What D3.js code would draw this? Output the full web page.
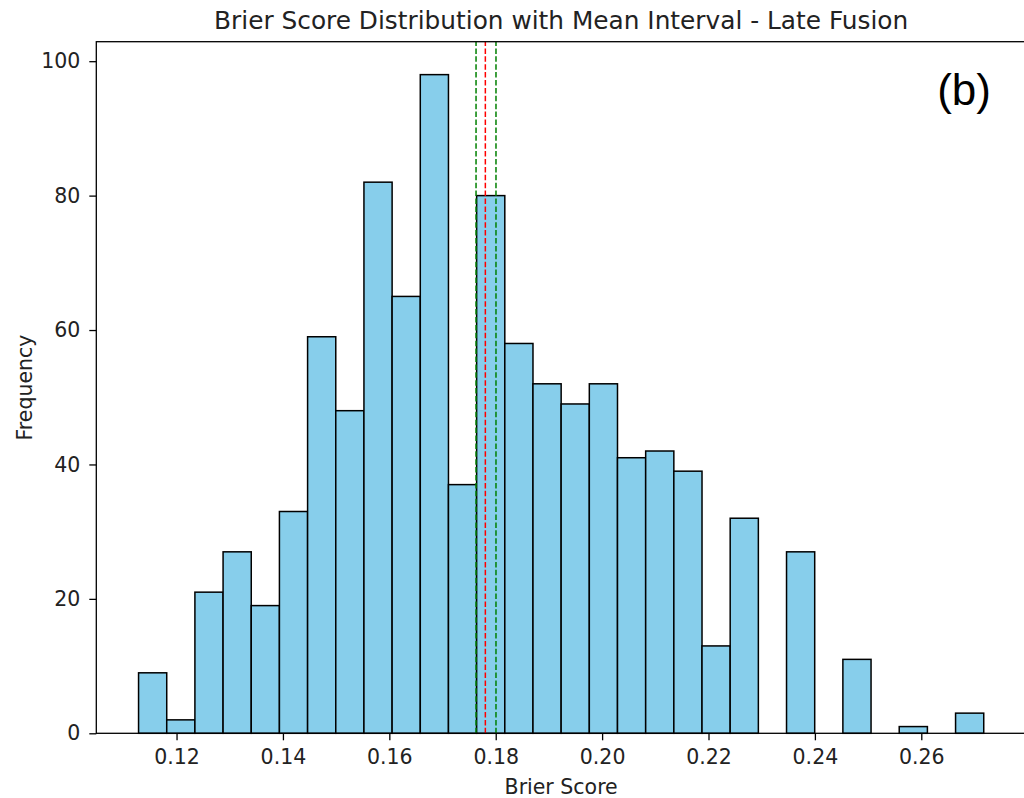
<!DOCTYPE html>
<html><head><meta charset="utf-8">
<script src="https://cdn.jsdelivr.net/npm/d3@7"></script>
<style>body{margin:0;background:#fff;} svg{display:block;}</style>
</head><body>
<svg id="chart" width="1024" height="798"></svg>
<script>
const counts = [9,2,21,27,19,33,59,48,82,65,98,37,80,58,52,49,52,41,42,39,13,32,0,27,0,11,0,1,0,3];
const binMin = 0.11286;
const binMax = 0.27174;
const meanValue = 0.17805;
const ciLower = 0.17630;
const ciUpper = 0.18005;
const xTicks = [0.12,0.14,0.16,0.18,0.20,0.22,0.24,0.26];
const yTicks = [0,20,40,60,80,100];

const svg = d3.select("#chart");
const L = 96.3, R = 1026, T = 41.7, B = 733.3;
const font = "DejaVu Sans, sans-serif";
const span = binMax - binMin;
const x = d3.scaleLinear().domain([binMin - 0.05*span, binMax + 0.05*span]).range([L, R]);
const y = d3.scaleLinear().domain([0, d3.max(counts)*1.05]).range([B, T]);
const bw = span / counts.length;
const bins = counts.map((c,i)=>({x0: binMin + i*bw, x1: binMin + (i+1)*bw, c}));

svg.append("g").selectAll("rect").data(bins).join("rect")
  .attr("x", d=>x(d.x0)).attr("width", d=>x(d.x1)-x(d.x0))
  .attr("y", d=>y(d.c)).attr("height", d=>y(0)-y(d.c))
  .attr("fill", "#87ceeb").attr("stroke", "#000").attr("stroke-width", 1.5);

const lines = [{v: meanValue, c: "#ff0000"},{v: ciLower, c:"#008000"},{v: ciUpper, c:"#008000"}];
svg.append("g").selectAll("line").data(lines).join("line")
  .attr("x1", d=>x(d.v)).attr("x2", d=>x(d.v)).attr("y1", B).attr("y2", T)
  .attr("stroke", d=>d.c).attr("stroke-width", 1.5).attr("stroke-dasharray", "5.5,2.4");

// axes
const xAxis = svg.append("g").attr("transform", `translate(0,${B})`)
  .call(d3.axisBottom(x).tickValues(xTicks).tickFormat(d3.format(".2f")).tickSize(7).tickPadding(9));
const yAxis = svg.append("g").attr("transform", `translate(${L},0)`)
  .call(d3.axisLeft(y).tickValues(yTicks).tickSize(7).tickPadding(9));
[xAxis, yAxis].forEach(g=>{
  g.select(".domain").remove();
  g.selectAll(".tick line").attr("stroke","#000").attr("stroke-width",1.3);
  g.selectAll(".tick text").attr("font-family", font).attr("font-size", 20.5).attr("fill","#222");
});
// spines
svg.append("rect").attr("x", L).attr("y", T).attr("width", R-L).attr("height", B-T)
  .attr("fill","none").attr("stroke","#000").attr("stroke-width",1.3);

svg.append("text").attr("x", (L+R)/2).attr("y", 29).attr("text-anchor","middle")
  .attr("font-family", font).attr("font-size", 24.8).attr("fill","#222")
  .text("Brier Score Distribution with Mean Interval - Late Fusion");
svg.append("text").attr("x", (L+R)/2).attr("y", 794).attr("text-anchor","middle")
  .attr("font-family", font).attr("font-size", 20.5).attr("fill","#222").text("Brier Score");
svg.append("text").attr("transform", `translate(32,${(T+B)/2}) rotate(-90)`).attr("text-anchor","middle")
  .attr("font-family", font).attr("font-size", 20.5).attr("fill","#222").text("Frequency");
svg.append("text").attr("x", 991).attr("y", 105).attr("text-anchor","end")
  .attr("font-family", "Liberation Sans, Arial, sans-serif").attr("font-size", 44).attr("fill","#000").text("(b)");
</script>
</body></html>
